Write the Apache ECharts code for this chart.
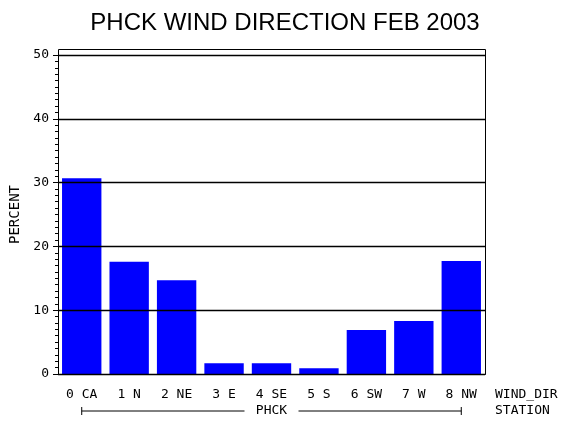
<!DOCTYPE html>
<html>
<head>
<meta charset="utf-8">
<script src="https://cdn.jsdelivr.net/npm/echarts@6/dist/echarts.min.js"></script>
<style>
html,body{margin:0;padding:0;background:#fff;}
#chart{width:570px;height:430px;}
</style>
</head>
<body>
<div id="chart"></div>
<script>
const titleText = 'PHCK WIND DIRECTION FEB 2003';
const categories = ['0 CA', '1 N', '2 NE', '3 E', '4 SE', '5 S', '6 SW', '7 W', '8 NW'];
const percent = [30.7, 17.6, 14.7, 1.7, 1.7, 0.9, 6.9, 8.3, 17.7];
const yMin = 0, yMax = 50, yInterval = 10;
const xAxisTitle = 'WIND_DIR';
const stationLabel = 'PHCK';
const stationTitle = 'STATION';

const G = {left: 58, right: 85, top: 55, bottom: 56};
const W = 570, H = 430;
const mono = 'DejaVu Sans Mono';

const chart = echarts.init(document.getElementById('chart'), null, {renderer: 'canvas'});
chart.setOption({
  animation: false,
  backgroundColor: '#fff',
  title: {
    text: titleText, left: 'center', top: 6,
    textStyle: {fontFamily: 'Liberation Sans', fontSize: 24, fontWeight: 'normal', color: '#000'}
  },
  grid: {left: G.left, right: G.right, top: G.top, bottom: G.bottom, containLabel: false},
  xAxis: {
    type: 'category', data: categories,
    axisLine: {show: true, lineStyle: {color: '#000', width: 1}},
    axisTick: {show: false},
    axisLabel: {interval: 0, margin: 14, color: '#000', fontFamily: mono, fontSize: 13}
  },
  yAxis: {
    type: 'value', min: yMin, max: yMax, interval: yInterval, z: 3,
    name: 'PERCENT', nameLocation: 'middle', nameGap: 35, nameRotate: 90,
    nameTextStyle: {color: '#000', fontFamily: mono, fontSize: 14},
    axisLine: {show: true, lineStyle: {color: '#000', width: 1}},
    axisTick: {show: true, length: 5, lineStyle: {color: '#000'}},
    minorTick: {show: true, splitNumber: 10, length: 3, lineStyle: {color: '#000'}},
    splitLine: {show: true, lineStyle: {color: '#000', width: 1.3}},
    axisLabel: {margin: 9, color: '#000', fontFamily: mono, fontSize: 13}
  },
  series: [{
    type: 'bar', data: percent, barCategoryGap: '17%',
    itemStyle: {color: '#0000ff'}
  }]
});

function addGraphics() {
  const x0 = chart.convertToPixel({xAxisIndex: 0}, categories[0]);
  const x1 = chart.convertToPixel({xAxisIndex: 0}, categories[categories.length - 1]);
  const mid = (x0 + x1) / 2;
  const by = 411;
  const right = W - G.right;
  const bottom = H - G.bottom;
  const lineStyle = {stroke: '#000', lineWidth: 1};
  chart.setOption({
    graphic: [
      {type: 'rect', silent: true, z: 10,
       shape: {x: G.left + 0.5, y: G.top - 6 + 0.5, width: right - G.left, height: bottom - (G.top - 6)},
       style: {fill: 'none', stroke: '#000', lineWidth: 1}},
      {type: 'line', shape: {x1: x0, y1: by, x2: mid - 27, y2: by}, style: lineStyle},
      {type: 'line', shape: {x1: mid + 27, y1: by, x2: x1, y2: by}, style: lineStyle},
      {type: 'line', shape: {x1: x0, y1: by - 4, x2: x0, y2: by + 4}, style: lineStyle},
      {type: 'line', shape: {x1: x1, y1: by - 4, x2: x1, y2: by + 4}, style: lineStyle},
      {type: 'text', x: mid, y: by, style: {text: stationLabel, fill: '#000', font: '13px "DejaVu Sans Mono"', textAlign: 'center', textVerticalAlign: 'middle'}},
      {type: 'text', x: right + 10, y: 395, style: {text: xAxisTitle, fill: '#000', font: '13px "DejaVu Sans Mono"', textAlign: 'left', textVerticalAlign: 'middle'}},
      {type: 'text', x: right + 10, y: by, style: {text: stationTitle, fill: '#000', font: '13px "DejaVu Sans Mono"', textAlign: 'left', textVerticalAlign: 'middle'}}
    ]
  });
}
addGraphics();
</script>
</body>
</html>
